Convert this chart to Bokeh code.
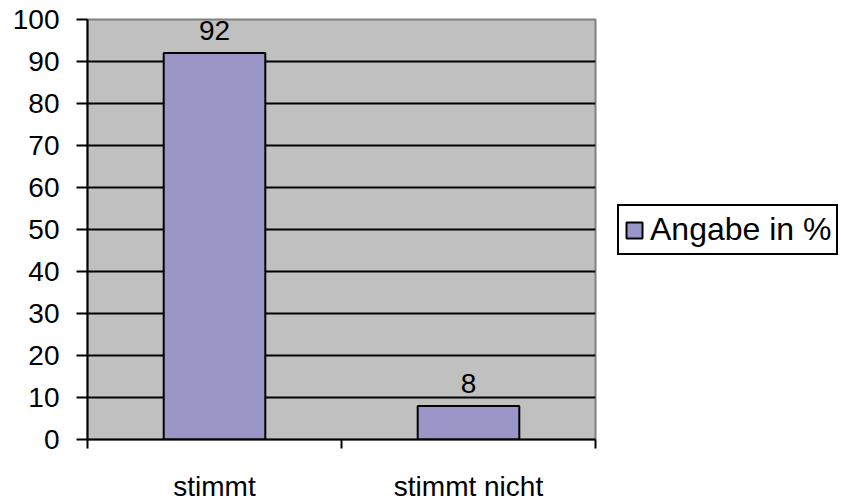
from bokeh.plotting import figure
from bokeh.models import ColumnDataSource, FixedTicker, Legend, LegendItem, Range1d, LabelSet
from bokeh.core.properties import value
from bokeh.embed import file_html
from bokeh.resources import INLINE

categories = ["stimmt", "stimmt nicht"]
values = [92, 8]
series_name = "Angabe in %"
y_ticks = [0, 10, 20, 30, 40, 50, 60, 70, 80, 90, 100]

xpos = [i + 0.5 for i in range(len(categories))]
src = ColumnDataSource(dict(x=xpos, top=values, lbl=[str(v) for v in values]))

FONT = "Liberation Sans"
p = figure(frame_width=508, frame_height=420, output_backend="svg", toolbar_location=None,
           x_range=Range1d(0, len(categories)), y_range=Range1d(0, 100),
           min_border_left=87, min_border_top=19, min_border_right=0,
           min_border_bottom=61)
p.background_fill_color = "#C0C0C0"
p.border_fill_color = "white"
p.outline_line_color = "#808080"
p.outline_line_width = 2

r = p.vbar(x="x", top="top", width=0.4, bottom=0, source=src,
           fill_color="#9A96C8", line_color="black", line_width=2)

labels = LabelSet(x="x", y="top", text="lbl", source=src, text_align="center",
                  text_baseline="alphabetic", y_offset=13, text_font=value(FONT),
                  text_font_size="28px", text_color="black")
p.add_layout(labels)

# y axis
p.yaxis.ticker = FixedTicker(ticks=y_ticks)
p.yaxis.axis_line_color = "black"
p.yaxis.axis_line_width = 2
p.yaxis.major_tick_line_color = "black"
p.yaxis.major_tick_line_width = 2
p.yaxis.major_tick_in = 0
p.yaxis.major_tick_out = 11
p.yaxis.minor_tick_line_color = None
p.yaxis.major_label_text_font = FONT
p.yaxis.major_label_text_font_size = "28px"
p.yaxis.major_label_text_color = "black"
p.yaxis.major_label_standoff = 17

# x axis
p.xaxis.ticker = FixedTicker(ticks=xpos, minor_ticks=list(range(len(categories) + 1)))
p.xaxis.major_label_overrides = {x: c for x, c in zip(xpos, categories)}
p.xaxis.axis_line_color = "black"
p.xaxis.axis_line_width = 2
p.xaxis.major_tick_line_color = None
p.xaxis.major_tick_in = 0
p.xaxis.major_tick_out = 0
p.xaxis.minor_tick_line_color = "black"
p.xaxis.minor_tick_line_width = 2
p.xaxis.minor_tick_in = 0
p.xaxis.minor_tick_out = 9
p.xaxis.major_label_text_font = FONT
p.xaxis.major_label_text_font_size = "28px"
p.xaxis.major_label_text_color = "black"
p.xaxis.major_label_standoff = 22

p.xgrid.grid_line_color = None
p.ygrid.ticker = FixedTicker(ticks=y_ticks)
p.ygrid.grid_line_color = "black"
p.ygrid.grid_line_width = 2

legend = Legend(items=[LegendItem(label=series_name, renderers=[r])],
                location=(22, 184))
legend.border_line_color = "black"
legend.border_line_alpha = 1
legend.border_line_width = 2
legend.background_fill_color = "white"
legend.background_fill_alpha = 1
legend.label_text_font = FONT
legend.label_text_font_size = "32px"
legend.label_text_color = "black"
legend.glyph_width = 20
legend.glyph_height = 20
legend.padding = 5
legend.margin = 0
legend.label_standoff = 6
p.add_layout(legend, "right")

open("out.html", "w").write(file_html(p, INLINE))
